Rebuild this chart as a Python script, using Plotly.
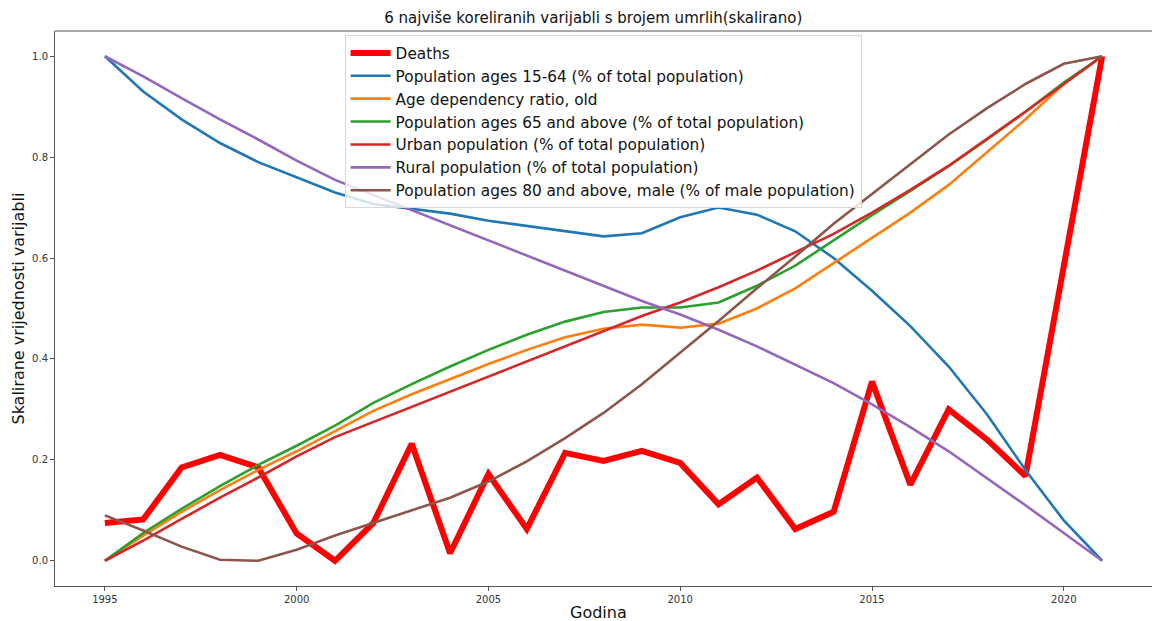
import plotly.graph_objects as go

years = list(range(1995, 2022))

deaths = [0.075, 0.082, 0.185, 0.21, 0.185, 0.054, 0.0, 0.075, 0.232, 0.015,
          0.172, 0.063, 0.214, 0.198, 0.218, 0.194, 0.112, 0.165, 0.063, 0.097,
          0.355, 0.151, 0.300, 0.240, 0.168, 0.585, 1.0]
pop_15_64 = [1.0, 0.93, 0.875, 0.828, 0.79, 0.76, 0.73, 0.707, 0.698, 0.688,
             0.674, 0.664, 0.653, 0.643, 0.649, 0.681, 0.70, 0.686, 0.653, 0.60,
             0.535, 0.465, 0.385, 0.29, 0.18, 0.08, 0.0]
age_dep_old = [0.0, 0.05, 0.097, 0.14, 0.18, 0.217, 0.257, 0.297, 0.33, 0.36,
               0.39, 0.418, 0.443, 0.46, 0.468, 0.462, 0.47, 0.50, 0.54, 0.59,
               0.64, 0.69, 0.745, 0.81, 0.875, 0.945, 1.0]
pop_65_up = [0.0, 0.055, 0.103, 0.148, 0.19, 0.228, 0.268, 0.313, 0.35, 0.385,
             0.418, 0.448, 0.474, 0.493, 0.502, 0.502, 0.512, 0.545, 0.585, 0.635,
             0.685, 0.733, 0.782, 0.835, 0.89, 0.948, 1.0]
urban = [0.0, 0.04, 0.083, 0.125, 0.165, 0.207, 0.245, 0.275, 0.305, 0.335,
         0.365, 0.395, 0.425, 0.455, 0.485, 0.512, 0.542, 0.575, 0.612, 0.648,
         0.69, 0.735, 0.783, 0.836, 0.89, 0.945, 1.0]
rural = [1.0, 0.96, 0.917, 0.875, 0.835, 0.793, 0.755, 0.725, 0.695, 0.665,
         0.635, 0.605, 0.575, 0.545, 0.515, 0.488, 0.458, 0.425, 0.388, 0.352,
         0.31, 0.265, 0.217, 0.164, 0.11, 0.055, 0.0]
pop_80_male = [0.09, 0.06, 0.028, 0.002, 0.0, 0.022, 0.05, 0.075, 0.10, 0.125,
               0.157, 0.197, 0.243, 0.293, 0.35, 0.413, 0.475, 0.54, 0.603, 0.668,
               0.727, 0.787, 0.845, 0.897, 0.945, 0.985, 1.0]

series = [
    ("Deaths", deaths, "#ff0000", 6),
    ("Population ages 15-64 (% of total population)", pop_15_64, "#1f77b4", 2.6),
    ("Age dependency ratio, old", age_dep_old, "#ff7f0e", 2.6),
    ("Population ages 65 and above (% of total population)", pop_65_up, "#2ca02c", 2.6),
    ("Urban population (% of total population)", urban, "#d62728", 2.6),
    ("Rural population (% of total population)", rural, "#9467bd", 2.6),
    ("Population ages 80 and above, male (% of male population)", pop_80_male, "#8c564b", 2.6),
]

fig = go.Figure()
for name, vals, color, w in series:
    fig.add_trace(go.Scatter(x=years, y=vals, mode="lines", name=name,
                             line=dict(color=color, width=w)))

font_family = "DejaVu Sans, Arial, sans-serif"
fig.update_layout(
    width=1152, height=621,
    plot_bgcolor="white", paper_bgcolor="white",
    font=dict(family=font_family, color="#222"),
    margin=dict(l=55, r=0, t=31, b=35, autoexpand=False),
    title=dict(text="6 najviše koreliranih varijabli s brojem umrlih(skalirano)",
               x=0.515, xanchor="center", y=0.971, yanchor="middle",
               font=dict(size=15, color="#111"), automargin=False),
    legend=dict(x=0.264, y=0.992, xanchor="left", yanchor="top",
                bgcolor="rgba(255,255,255,0.8)", bordercolor="#d8d8d8", borderwidth=1,
                font=dict(size=15.3, color="#111"), tracegroupgap=0, itemwidth=40),
    showlegend=True,
)
fig.update_xaxes(
    range=[1993.7, 2022.3], tickvals=[1995, 2000, 2005, 2010, 2015, 2020],
    showgrid=False, zeroline=False, showline=True, linecolor="#555", linewidth=1,
    ticks="outside", ticklen=4, tickcolor="#555", tickfont=dict(size=10, color="#333"),
    automargin=False,
)
fig.update_yaxes(
    range=[-0.05, 1.05], tickvals=[0, 0.2, 0.4, 0.6, 0.8, 1.0], tickformat=".1f",
    showgrid=False, zeroline=False, showline=True, linecolor="#555", linewidth=1,
    ticks="outside", ticklen=4, tickcolor="#555", tickfont=dict(size=10, color="#333"),
    automargin=False,
)
# axis titles placed like the reference
fig.add_annotation(text="Godina", xref="paper", yref="paper", x=0.4955, y=-0.0486,
                   xanchor="center", yanchor="middle", showarrow=False,
                   font=dict(size=16, color="#111"))
fig.add_annotation(text="Skalirane vrijednosti varijabli", xref="paper", yref="paper",
                   x=-0.0337, y=0.5, xanchor="center", yanchor="middle", textangle=-90,
                   showarrow=False, font=dict(size=16, color="#111"))
# top spine
fig.add_shape(type="line", xref="paper", yref="paper", x0=0, x1=1, y0=1, y1=1,
              line=dict(color="#555", width=1))

# page has a default 8px body margin; drop it so the figure sits at 0,0
fig.write_html("out.html", config={"displayModeBar": False},
               post_script="document.body.style.margin='0';")
